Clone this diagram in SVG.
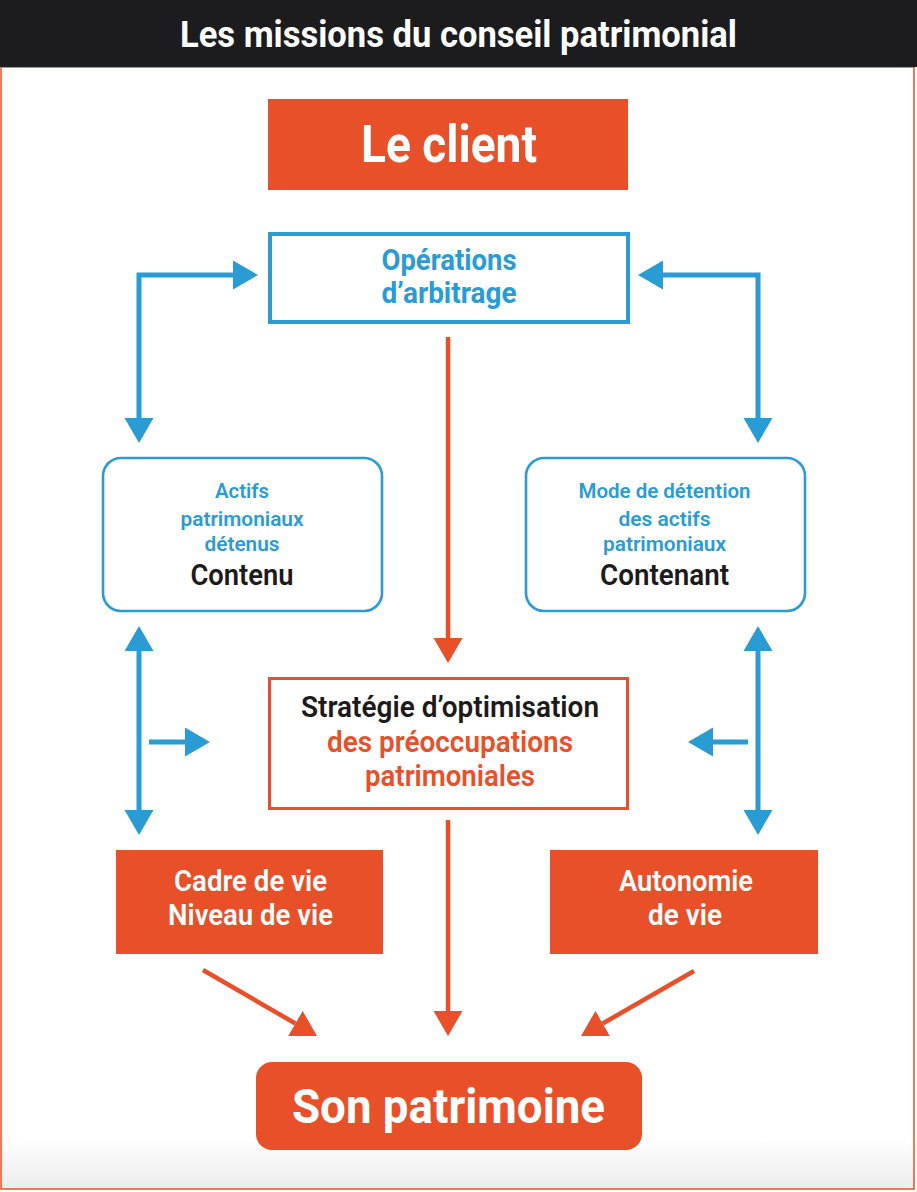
<svg xmlns="http://www.w3.org/2000/svg" width="917" height="1192" viewBox="0 0 917 1192">
<defs>
<linearGradient id="bg" x1="0" y1="0" x2="0" y2="1">
<stop offset="0" stop-color="#ffffff"/>
<stop offset="0.955" stop-color="#ffffff"/>
<stop offset="1" stop-color="#ececec"/>
</linearGradient>
<marker id="ab" markerUnits="userSpaceOnUse" markerWidth="26" markerHeight="30" refX="0" refY="14.5" orient="auto-start-reverse">
<path d="M0,0 L25,14.5 L0,29 z" fill="#2a9bd3"/>
</marker>
<marker id="ao" markerUnits="userSpaceOnUse" markerWidth="26" markerHeight="30" refX="0" refY="14.5" orient="auto-start-reverse">
<path d="M0,0 L25,14.5 L0,29 z" fill="#e8502a"/>
</marker>
<style>
text{font-family:Roboto,"Liberation Sans",sans-serif;text-anchor:middle}
.b{font-weight:700}
.s{font-weight:600}
.w{fill:#ffffff}
.bl{fill:#2a9bd3}
.k{fill:#1c1a1d}
.o{fill:#e8502a}
.cb{fill:none;stroke:#2a9bd3;stroke-width:5;stroke-linejoin:miter}
.co{fill:none;stroke:#e8502a;stroke-width:4.5}
</style>
</defs>
<rect x="0" y="0" width="917" height="1192" fill="#ffffff"/>
<rect x="1" y="67" width="913" height="1122" fill="url(#bg)" stroke="#e8502a" stroke-width="1.5"/>
<g id="header">
<rect x="0" y="0" width="917" height="67" fill="#1c1b1e"/>
<text x="458.5" y="47" class="b w" font-size="37" textLength="557" lengthAdjust="spacingAndGlyphs">Les missions du conseil patrimonial</text>
</g>
<g id="connectors">
<path class="cb" d="M139,418 V275 H233" marker-start="url(#ab)" marker-end="url(#ab)"/>
<path class="cb" d="M758,418 V275 H663" marker-start="url(#ab)" marker-end="url(#ab)"/>
<path class="cb" d="M139,651 V810" marker-start="url(#ab)" marker-end="url(#ab)"/>
<path class="cb" d="M149,742 H185" marker-end="url(#ab)"/>
<path class="cb" d="M758,651 V810" marker-start="url(#ab)" marker-end="url(#ab)"/>
<path class="cb" d="M748,742 H713" marker-end="url(#ab)"/>
<path class="co" d="M448,337 V638" marker-end="url(#ao)"/>
<path class="co" d="M448,820 V1011" marker-end="url(#ao)"/>
<path class="co" stroke-width="4" d="M203,970 L295.4,1023.5" marker-end="url(#ao)"/>
<path class="co" stroke-width="4" d="M694,971 L602.7,1023.5" marker-end="url(#ao)"/>
</g>
<g id="client">
<rect x="268" y="99" width="360" height="91" fill="#e8502a"/>
<text x="449" y="162" class="b w" font-size="52" textLength="176" lengthAdjust="spacingAndGlyphs">Le client</text>
</g>
<g id="operations">
<rect x="270" y="234" width="358" height="88" fill="#ffffff" stroke="#2a9bd3" stroke-width="4"/>
<text x="449" y="270" class="b bl" font-size="30" textLength="135" lengthAdjust="spacingAndGlyphs">Opérations</text>
<text x="449" y="303" class="b bl" font-size="30" textLength="135" lengthAdjust="spacingAndGlyphs">d’arbitrage</text>
</g>
<g id="contenu">
<rect x="103" y="458" width="279" height="153" rx="18" fill="#ffffff" stroke="#2a9bd3" stroke-width="2.6"/>
<text x="242" y="498" class="s bl" font-size="20" textLength="54" lengthAdjust="spacingAndGlyphs">Actifs</text>
<text x="242" y="526" class="s bl" font-size="20" textLength="123" lengthAdjust="spacingAndGlyphs">patrimoniaux</text>
<text x="242" y="551" class="s bl" font-size="20" textLength="75" lengthAdjust="spacingAndGlyphs">détenus</text>
<text x="242" y="585" class="s k" font-size="30" textLength="103" lengthAdjust="spacingAndGlyphs">Contenu</text>
</g>
<g id="contenant">
<rect x="526" y="458" width="279" height="153" rx="18" fill="#ffffff" stroke="#2a9bd3" stroke-width="2.6"/>
<text x="664.5" y="498" class="s bl" font-size="20" textLength="172" lengthAdjust="spacingAndGlyphs">Mode de détention</text>
<text x="664.5" y="526" class="s bl" font-size="20" textLength="92" lengthAdjust="spacingAndGlyphs">des actifs</text>
<text x="664.5" y="551" class="s bl" font-size="20" textLength="123" lengthAdjust="spacingAndGlyphs">patrimoniaux</text>
<text x="664.5" y="585" class="s k" font-size="30" textLength="129" lengthAdjust="spacingAndGlyphs">Contenant</text>
</g>
<g id="strategie">
<rect x="269.5" y="678.5" width="358" height="130" fill="#ffffff" stroke="#e8502a" stroke-width="3"/>
<text x="450" y="717" class="s k" font-size="30" textLength="298" lengthAdjust="spacingAndGlyphs">Stratégie d’optimisation</text>
<text x="450" y="752" class="s o" font-size="30" textLength="246" lengthAdjust="spacingAndGlyphs">des préoccupations</text>
<text x="450" y="786" class="s o" font-size="30" textLength="170" lengthAdjust="spacingAndGlyphs">patrimoniales</text>
</g>
<g id="cadre">
<rect x="116" y="850" width="267" height="104" fill="#e8502a"/>
<text x="250.5" y="891" class="s w" font-size="30" textLength="153" lengthAdjust="spacingAndGlyphs">Cadre de vie</text>
<text x="250.5" y="925" class="s w" font-size="30" textLength="165" lengthAdjust="spacingAndGlyphs">Niveau de vie</text>
</g>
<g id="autonomie">
<rect x="550" y="850" width="268" height="104" fill="#e8502a"/>
<text x="686" y="891" class="s w" font-size="30" textLength="134" lengthAdjust="spacingAndGlyphs">Autonomie</text>
<text x="685" y="925" class="s w" font-size="30" textLength="74" lengthAdjust="spacingAndGlyphs">de vie</text>
</g>
<g id="patrimoine">
<rect x="256" y="1062" width="386" height="88" rx="16" fill="#e8502a"/>
<text x="448.5" y="1123" class="b w" font-size="49" textLength="313" lengthAdjust="spacingAndGlyphs">Son patrimoine</text>
</g>
</svg>
